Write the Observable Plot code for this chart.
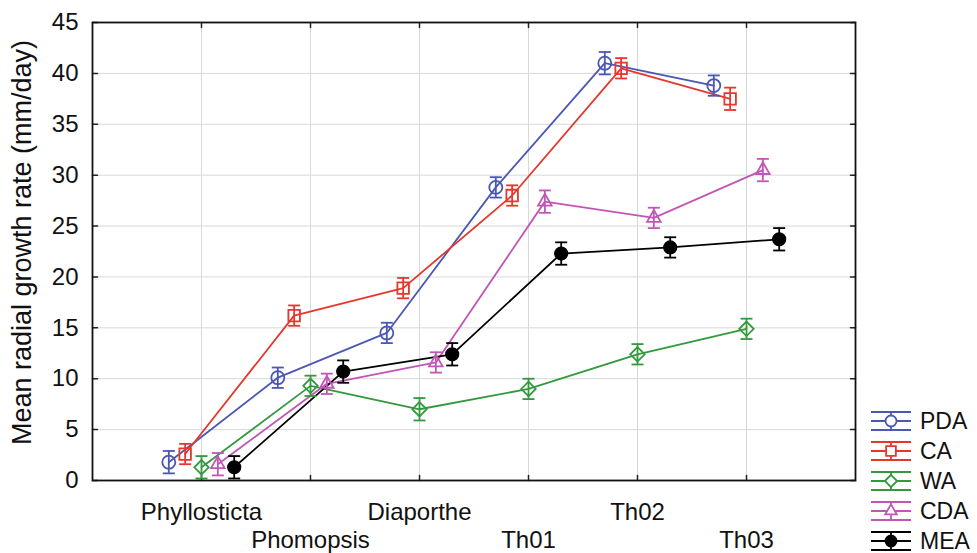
<!DOCTYPE html>
<html><head><meta charset="utf-8">
<script src="https://cdn.jsdelivr.net/npm/d3@7"></script>
<script src="https://cdn.jsdelivr.net/npm/@observablehq/plot@0.6"></script>
<style>
body{margin:0;background:#fff;}
#wrap{position:relative;width:977px;height:553px;}
#legend{position:absolute;left:0;top:0;pointer-events:none;}
</style></head><body><div id="wrap"></div>
<script>
// ---- data ----
const categories = ["Phyllosticta", "Phomopsis", "Diaporthe", "Th01", "Th02", "Th03"];
const media = ["PDA", "CA", "WA", "CDA", "MEA"];
const PDA = [1.8, 10.1, 14.5, 28.8, 41.0, 38.8];
const CA  = [2.6, 16.2, 18.9, 28.0, 40.5, 37.5];
const WA  = [1.3, 9.3, 7.0, 9.0, 12.4, 14.9];
const CDA = [1.6, 9.5, 11.6, 27.4, 25.8, 30.5];
const MEA = [1.3, 10.7, 12.4, 22.3, 22.9, 23.7];
const PDA_err = [1.1, 1.0, 1.0, 1.0, 1.1, 1.0];
const CA_err  = [1.0, 1.0, 1.0, 1.0, 1.0, 1.1];
const WA_err  = [1.1, 1.0, 1.1, 1.0, 1.0, 1.0];
const CDA_err = [1.1, 1.0, 1.0, 1.1, 1.0, 1.1];
const MEA_err = [1.1, 1.1, 1.1, 1.1, 1.0, 1.1];
const yTicks = [0, 5, 10, 15, 20, 25, 30, 35, 40, 45];
const yLabel = "Mean radial growth rate (mm/day)";

const values = {PDA, CA, WA, CDA, MEA};
const errors = {PDA: PDA_err, CA: CA_err, WA: WA_err, CDA: CDA_err, MEA: MEA_err};
const colors = ["#4a58b3", "#e5372c", "#33993d", "#c256b6", "#000000"];
const symbols = ["circle", "square", "diamond2", "triangle2", "circle"];
const xTicks = categories.map((c, i) => i + 1);
const dodge = 0.15;

const rows = media.flatMap((m, si) => categories.map((c, ci) => ({
  medium: m, category: c,
  xpos: ci + 1 + (si - 2) * dodge,
  value: values[m][ci], err: errors[m][ci]
})));

const capSymbol = {draw(ctx, size) { const w = Math.sqrt(size / Math.PI); ctx.moveTo(-w, 0); ctx.lineTo(w, 0); }};
const lineShape = {draw(ctx, l) { ctx.moveTo(0, 0); ctx.lineTo(0, -l); }};
const FONT = "'Liberation Sans', Arial, Helvetica, sans-serif";
const SW = 1.8;

const chart = Plot.plot({
  width: 977, height: 553,
  marginLeft: 92, marginRight: 122, marginTop: 22, marginBottom: 73,
  style: {fontFamily: FONT, fontSize: "24px", color: "#111", background: "white"},
  x: {domain: [0, 7], axis: null},
  y: {domain: [0, 45], axis: null},
  color: {domain: media, range: colors},
  symbol: {domain: media, range: symbols},
  marks: [
    Plot.gridY(yTicks, {stroke: "#d8d8d8", strokeOpacity: 1}),
    Plot.gridX(xTicks, {stroke: "#d8d8d8", strokeOpacity: 1}),
    Plot.axisY(yTicks, {tickSize: 0, tickPadding: 14, fontSize: 24, label: null, fill: "#111"}),
    Plot.axisX(xTicks.filter((d, i) => i % 2 === 0), {tickSize: 0, tickPadding: 22, fontSize: 24, label: null, tickFormat: d => categories[d - 1], fill: "#111"}),
    Plot.axisX(xTicks.filter((d, i) => i % 2 === 1), {tickSize: 0, tickPadding: 50, fontSize: 24, label: null, tickFormat: d => categories[d - 1], fill: "#111"}),
    Plot.vectorY(yTicks, {y: d => d, frameAnchor: "left", length: 5, rotate: 90, anchor: "start", shape: lineShape, stroke: "#222"}),
    Plot.vectorY(yTicks, {y: d => d, frameAnchor: "right", length: 5, rotate: -90, anchor: "start", shape: lineShape, stroke: "#222"}),
    Plot.vectorX(xTicks, {x: d => d, frameAnchor: "bottom", length: 5, rotate: 0, anchor: "start", shape: lineShape, stroke: "#222"}),
    Plot.vectorX(xTicks, {x: d => d, frameAnchor: "top", length: 5, rotate: 180, anchor: "start", shape: lineShape, stroke: "#222"}),
    Plot.text([yLabel], {frameAnchor: "left", dx: -70, dy: -9, rotate: -90, fontSize: 27, fill: "#111", textAnchor: "middle", lineAnchor: "middle"}),
    Plot.line(rows, {x: "xpos", y: "value", z: "medium", stroke: "medium", strokeWidth: SW}),
    Plot.ruleX(rows, {x: "xpos", y1: d => d.value - d.err, y2: d => d.value + d.err, stroke: "medium", strokeWidth: SW}),
    Plot.dot(rows, {x: "xpos", y: d => d.value + d.err, symbol: capSymbol, r: 6, stroke: "medium", strokeWidth: SW}),
    Plot.dot(rows, {x: "xpos", y: d => d.value - d.err, symbol: capSymbol, r: 6, stroke: "medium", strokeWidth: SW}),
    Plot.dot(rows.filter(d => d.medium !== "MEA"), {x: "xpos", y: "value", symbol: "medium", stroke: "medium", fill: "none", r: 6.5, strokeWidth: SW}),
    Plot.dot(rows.filter(d => d.medium === "MEA"), {x: "xpos", y: "value", symbol: "medium", stroke: "medium", fill: "#000", r: 6.5, strokeWidth: 1.2}),
    Plot.frame({stroke: "#111", strokeWidth: 1.8})
  ]
});
const wrap = document.getElementById("wrap");
wrap.appendChild(chart);

// ---- legend ----
const d3sym = {circle: d3.symbolCircle, square: d3.symbolSquare, diamond2: d3.symbolDiamond2, triangle2: d3.symbolTriangle2};
const leg = d3.create("svg").attr("id", "legend").attr("width", 977).attr("height", 553)
  .style("font-family", FONT);
media.forEach((m, i) => {
  const cy = 421 + i * 30, cx = 891, col = colors[i];
  const g = leg.append("g").attr("stroke", col).attr("stroke-width", SW).attr("fill", "none");
  [-9, 0, 9].forEach(o => g.append("line").attr("x1", 871).attr("x2", 911).attr("y1", cy + o).attr("y2", cy + o));
  g.append("line").attr("x1", cx).attr("x2", cx).attr("y1", cy - 9).attr("y2", cy + 9);
  g.append("path").attr("transform", `translate(${cx},${cy})`)
    .attr("d", d3.symbol(d3sym[symbols[i]], Math.PI * 5.5 * 5.5)())
    .attr("fill", m === "MEA" ? "#000" : "white");
  leg.append("text").attr("x", 920).attr("y", cy).attr("dy", "0.36em")
    .attr("font-size", 23).attr("fill", "#111").text(m);
});
wrap.appendChild(leg.node());
</script></body></html>
